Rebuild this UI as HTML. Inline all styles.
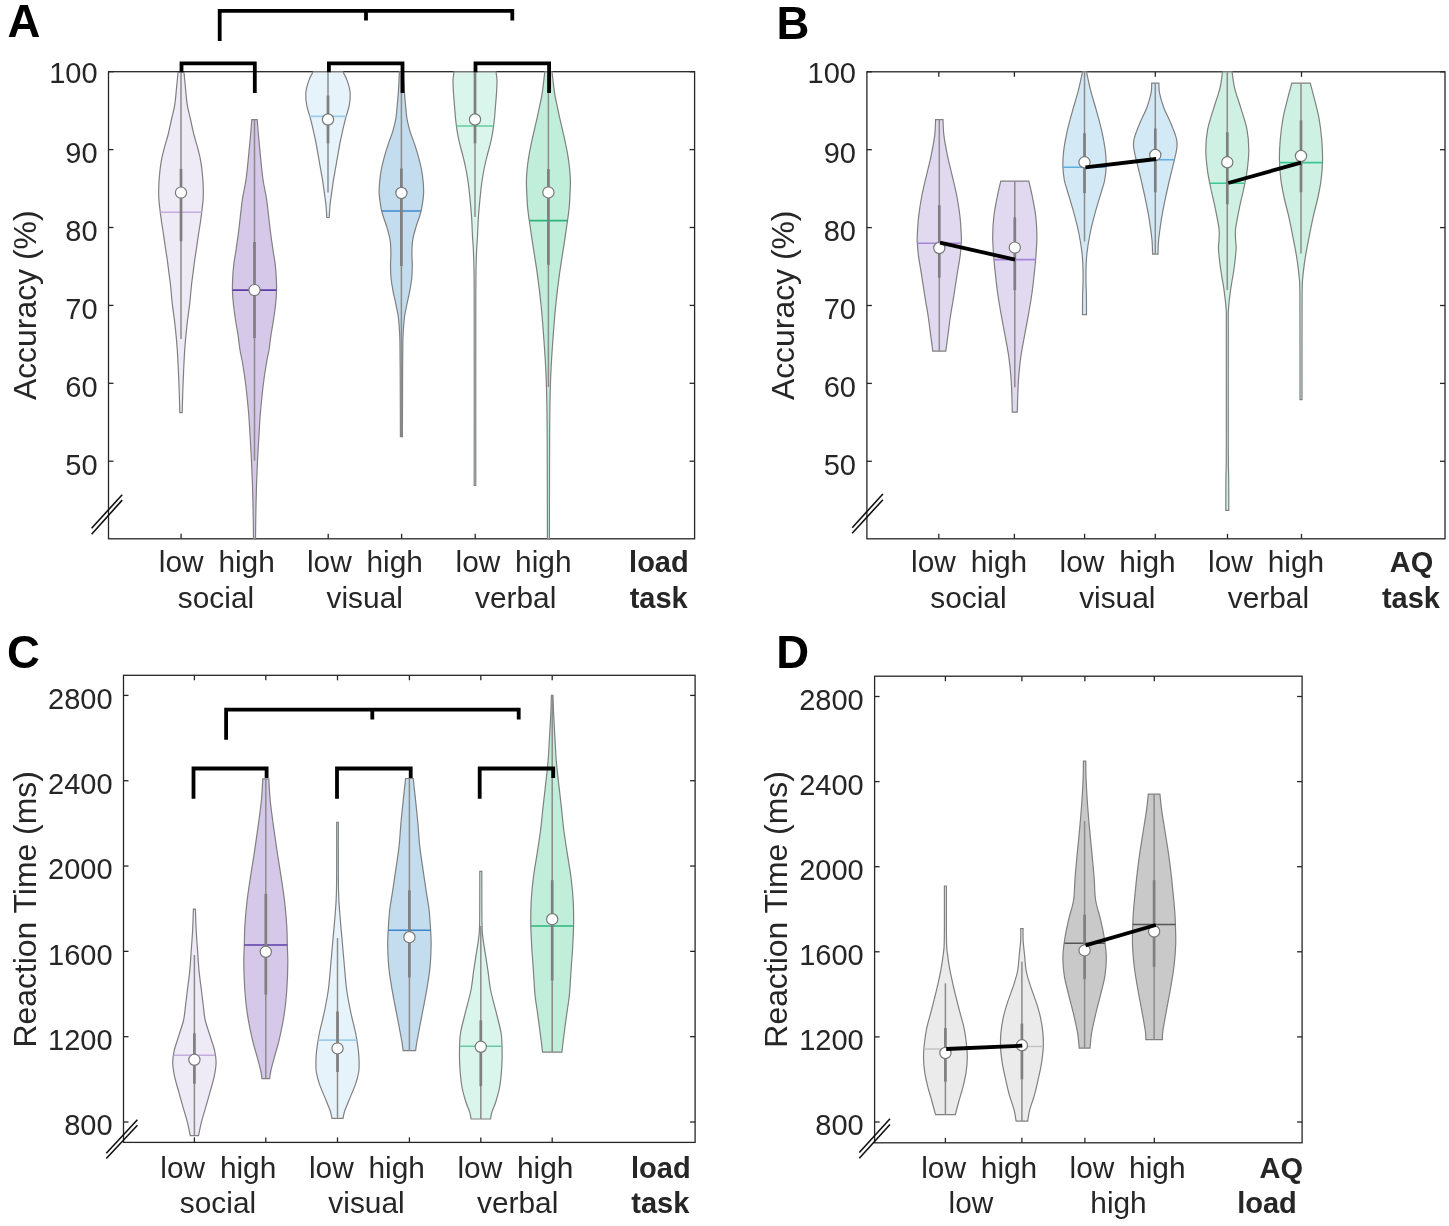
<!DOCTYPE html>
<html><head><meta charset="utf-8"><style>
html,body{margin:0;padding:0;background:#fff;overflow:hidden;}
svg{display:block;filter:blur(0.3px);}
text{font-family:"Liberation Sans", sans-serif;}
</style></head><body>
<svg width="1449" height="1226" viewBox="0 0 1449 1226" font-family='"Liberation Sans", sans-serif'>
<rect width="1449" height="1226" fill="#fff"/>
<rect x="108.50" y="71.70" width="586.10" height="467.10" fill="none" stroke="#262626" stroke-width="1.3"/>
<line x1="108.50" y1="71.70" x2="113.50" y2="71.70" stroke="#262626" stroke-width="1.3"/>
<line x1="694.60" y1="71.70" x2="689.60" y2="71.70" stroke="#262626" stroke-width="1.3"/>
<line x1="108.50" y1="149.60" x2="113.50" y2="149.60" stroke="#262626" stroke-width="1.3"/>
<line x1="694.60" y1="149.60" x2="689.60" y2="149.60" stroke="#262626" stroke-width="1.3"/>
<line x1="108.50" y1="227.50" x2="113.50" y2="227.50" stroke="#262626" stroke-width="1.3"/>
<line x1="694.60" y1="227.50" x2="689.60" y2="227.50" stroke="#262626" stroke-width="1.3"/>
<line x1="108.50" y1="305.40" x2="113.50" y2="305.40" stroke="#262626" stroke-width="1.3"/>
<line x1="694.60" y1="305.40" x2="689.60" y2="305.40" stroke="#262626" stroke-width="1.3"/>
<line x1="108.50" y1="383.30" x2="113.50" y2="383.30" stroke="#262626" stroke-width="1.3"/>
<line x1="694.60" y1="383.30" x2="689.60" y2="383.30" stroke="#262626" stroke-width="1.3"/>
<line x1="108.50" y1="461.20" x2="113.50" y2="461.20" stroke="#262626" stroke-width="1.3"/>
<line x1="694.60" y1="461.20" x2="689.60" y2="461.20" stroke="#262626" stroke-width="1.3"/>
<line x1="181.10" y1="538.80" x2="181.10" y2="533.80" stroke="#262626" stroke-width="1.3"/>
<line x1="181.10" y1="71.70" x2="181.10" y2="76.70" stroke="#262626" stroke-width="1.3"/>
<line x1="254.50" y1="538.80" x2="254.50" y2="533.80" stroke="#262626" stroke-width="1.3"/>
<line x1="254.50" y1="71.70" x2="254.50" y2="76.70" stroke="#262626" stroke-width="1.3"/>
<line x1="328.20" y1="538.80" x2="328.20" y2="533.80" stroke="#262626" stroke-width="1.3"/>
<line x1="328.20" y1="71.70" x2="328.20" y2="76.70" stroke="#262626" stroke-width="1.3"/>
<line x1="401.60" y1="538.80" x2="401.60" y2="533.80" stroke="#262626" stroke-width="1.3"/>
<line x1="401.60" y1="71.70" x2="401.60" y2="76.70" stroke="#262626" stroke-width="1.3"/>
<line x1="475.20" y1="538.80" x2="475.20" y2="533.80" stroke="#262626" stroke-width="1.3"/>
<line x1="475.20" y1="71.70" x2="475.20" y2="76.70" stroke="#262626" stroke-width="1.3"/>
<line x1="548.30" y1="538.80" x2="548.30" y2="533.80" stroke="#262626" stroke-width="1.3"/>
<line x1="548.30" y1="71.70" x2="548.30" y2="76.70" stroke="#262626" stroke-width="1.3"/>
<text x="97.60" y="82.70" font-size="29" text-anchor="end" font-weight="normal" fill="#262626" >100</text>
<text x="97.60" y="162.90" font-size="29" text-anchor="end" font-weight="normal" fill="#262626" >90</text>
<text x="97.60" y="240.80" font-size="29" text-anchor="end" font-weight="normal" fill="#262626" >80</text>
<text x="97.60" y="318.70" font-size="29" text-anchor="end" font-weight="normal" fill="#262626" >70</text>
<text x="97.60" y="396.60" font-size="29" text-anchor="end" font-weight="normal" fill="#262626" >60</text>
<text x="97.60" y="474.50" font-size="29" text-anchor="end" font-weight="normal" fill="#262626" >50</text>
<line x1="91.60" y1="528.30" x2="122.20" y2="494.70" stroke="#111" stroke-width="1.6"/>
<line x1="91.60" y1="534.20" x2="122.20" y2="500.10" stroke="#111" stroke-width="1.6"/>
<path d="M178.00 72.50 C177.80 74.58 177.33 79.70 176.80 85.00 C176.27 90.30 175.63 98.80 174.80 104.30 C173.97 109.80 172.67 114.05 171.80 118.00 C170.93 121.95 170.23 125.17 169.60 128.00 C168.97 130.83 168.87 131.72 168.00 135.00 C167.13 138.28 165.50 143.48 164.40 147.70 C163.30 151.92 162.18 156.08 161.40 160.30 C160.62 164.52 160.13 168.78 159.70 173.00 C159.27 177.22 158.95 181.38 158.80 185.60 C158.65 189.82 158.58 194.08 158.80 198.30 C159.02 202.52 159.60 206.68 160.10 210.90 C160.60 215.12 161.18 219.37 161.80 223.60 C162.42 227.83 163.17 232.08 163.80 236.30 C164.43 240.52 164.98 244.68 165.60 248.90 C166.22 253.12 166.92 257.38 167.50 261.60 C168.08 265.82 168.60 270.30 169.10 274.20 C169.60 278.10 169.98 280.22 170.50 285.00 C171.02 289.78 171.43 296.12 172.20 302.90 C172.97 309.68 174.27 318.08 175.10 325.70 C175.93 333.32 176.65 340.98 177.20 348.60 C177.75 356.22 178.05 363.78 178.40 371.40 C178.75 379.02 179.07 387.43 179.30 394.30 C179.53 401.17 179.72 409.55 179.80 412.60 L182.20 412.60 C182.28 409.55 182.47 401.17 182.70 394.30 C182.93 387.43 183.25 379.02 183.60 371.40 C183.95 363.78 184.25 356.22 184.80 348.60 C185.35 340.98 186.07 333.32 186.90 325.70 C187.73 318.08 189.03 309.68 189.80 302.90 C190.57 296.12 190.98 289.78 191.50 285.00 C192.02 280.22 192.40 278.10 192.90 274.20 C193.40 270.30 193.92 265.82 194.50 261.60 C195.08 257.38 195.78 253.12 196.40 248.90 C197.02 244.68 197.57 240.52 198.20 236.30 C198.83 232.08 199.58 227.83 200.20 223.60 C200.82 219.37 201.40 215.12 201.90 210.90 C202.40 206.68 202.98 202.52 203.20 198.30 C203.42 194.08 203.35 189.82 203.20 185.60 C203.05 181.38 202.73 177.22 202.30 173.00 C201.87 168.78 201.38 164.52 200.60 160.30 C199.82 156.08 198.70 151.92 197.60 147.70 C196.50 143.48 194.87 138.28 194.00 135.00 C193.13 131.72 193.03 130.83 192.40 128.00 C191.77 125.17 191.07 121.95 190.20 118.00 C189.33 114.05 188.03 109.80 187.20 104.30 C186.37 98.80 185.73 90.30 185.20 85.00 C184.67 79.70 184.20 74.58 184.00 72.50 Z" fill="#eeeaf6" stroke="#808080" stroke-width="1.2"/>
<line x1="181.00" y1="72.50" x2="181.00" y2="338.90" stroke="#8c8c8c" stroke-width="1.5"/>
<line x1="160.27" y1="212.20" x2="201.73" y2="212.20" stroke="#c2aede" stroke-width="1.6"/>
<line x1="181.00" y1="168.90" x2="181.00" y2="241.30" stroke="#7f7f7f" stroke-width="2.7"/>
<circle cx="181.00" cy="192.60" r="5.6" fill="#fff" stroke="#787878" stroke-width="1.2"/>
<path d="M251.80 119.70 C251.52 123.08 251.02 130.37 250.10 140.00 C249.18 149.63 247.60 167.50 246.30 177.50 C245.00 187.50 243.55 191.25 242.30 200.00 C241.05 208.75 239.85 221.67 238.80 230.00 C237.75 238.33 236.85 244.17 236.00 250.00 C235.15 255.83 234.27 260.00 233.70 265.00 C233.13 270.00 232.80 275.50 232.60 280.00 C232.40 284.50 232.35 287.83 232.50 292.00 C232.65 296.17 233.00 300.33 233.50 305.00 C234.00 309.67 234.75 315.00 235.50 320.00 C236.25 325.00 237.25 330.00 238.00 335.00 C238.75 340.00 239.33 345.83 240.00 350.00 C240.67 354.17 241.17 355.17 242.00 360.00 C242.83 364.83 244.12 372.50 245.00 379.00 C245.88 385.50 246.63 392.50 247.30 399.00 C247.97 405.50 248.52 411.50 249.00 418.00 C249.48 424.50 249.82 431.50 250.20 438.00 C250.58 444.50 250.95 450.00 251.30 457.00 C251.65 464.00 252.02 472.00 252.30 480.00 C252.58 488.00 252.80 495.20 253.00 505.00 C253.20 514.80 253.42 533.17 253.50 538.80 L255.50 538.80 C255.58 533.17 255.80 514.80 256.00 505.00 C256.20 495.20 256.42 488.00 256.70 480.00 C256.98 472.00 257.35 464.00 257.70 457.00 C258.05 450.00 258.42 444.50 258.80 438.00 C259.18 431.50 259.52 424.50 260.00 418.00 C260.48 411.50 261.03 405.50 261.70 399.00 C262.37 392.50 263.12 385.50 264.00 379.00 C264.88 372.50 266.17 364.83 267.00 360.00 C267.83 355.17 268.33 354.17 269.00 350.00 C269.67 345.83 270.25 340.00 271.00 335.00 C271.75 330.00 272.75 325.00 273.50 320.00 C274.25 315.00 275.00 309.67 275.50 305.00 C276.00 300.33 276.35 296.17 276.50 292.00 C276.65 287.83 276.60 284.50 276.40 280.00 C276.20 275.50 275.87 270.00 275.30 265.00 C274.73 260.00 273.85 255.83 273.00 250.00 C272.15 244.17 271.25 238.33 270.20 230.00 C269.15 221.67 267.95 208.75 266.70 200.00 C265.45 191.25 264.00 187.50 262.70 177.50 C261.40 167.50 259.82 149.63 258.90 140.00 C257.98 130.37 257.48 123.08 257.20 119.70 Z" fill="#d5c8e8" stroke="#808080" stroke-width="1.2"/>
<line x1="254.50" y1="119.70" x2="254.50" y2="460.60" stroke="#8c8c8c" stroke-width="1.5"/>
<line x1="232.52" y1="290.10" x2="276.48" y2="290.10" stroke="#5b3ea6" stroke-width="1.6"/>
<line x1="254.50" y1="242.00" x2="254.50" y2="338.00" stroke="#7f7f7f" stroke-width="2.7"/>
<circle cx="254.50" cy="290.10" r="5.6" fill="#fff" stroke="#787878" stroke-width="1.2"/>
<path d="M313.10 71.80 C312.38 73.27 310.02 77.05 308.80 80.60 C307.58 84.15 306.13 88.92 305.80 93.10 C305.47 97.28 306.03 101.50 306.80 105.70 C307.57 109.90 309.30 114.12 310.40 118.30 C311.50 122.48 312.45 126.62 313.40 130.80 C314.35 134.98 315.28 139.22 316.10 143.40 C316.92 147.58 317.57 151.72 318.30 155.90 C319.03 160.08 319.77 164.30 320.50 168.50 C321.23 172.70 322.03 176.92 322.70 181.10 C323.37 185.28 323.93 189.42 324.50 193.60 C325.07 197.78 325.72 202.22 326.10 206.20 C326.48 210.18 326.68 215.62 326.80 217.50 L329.20 217.50 C329.32 215.62 329.52 210.18 329.90 206.20 C330.28 202.22 330.93 197.78 331.50 193.60 C332.07 189.42 332.63 185.28 333.30 181.10 C333.97 176.92 334.77 172.70 335.50 168.50 C336.23 164.30 336.97 160.08 337.70 155.90 C338.43 151.72 339.08 147.58 339.90 143.40 C340.72 139.22 341.65 134.98 342.60 130.80 C343.55 126.62 344.50 122.48 345.60 118.30 C346.70 114.12 348.43 109.90 349.20 105.70 C349.97 101.50 350.53 97.28 350.20 93.10 C349.87 88.92 348.42 84.15 347.20 80.60 C345.98 77.05 343.62 73.27 342.90 71.80 Z" fill="#e6f3fa" stroke="#808080" stroke-width="1.2"/>
<line x1="328.00" y1="71.80" x2="328.00" y2="192.40" stroke="#8c8c8c" stroke-width="1.5"/>
<line x1="309.86" y1="116.40" x2="346.14" y2="116.40" stroke="#9dcdea" stroke-width="1.6"/>
<line x1="328.00" y1="95.60" x2="328.00" y2="143.40" stroke="#7f7f7f" stroke-width="2.7"/>
<circle cx="328.00" cy="119.50" r="5.6" fill="#fff" stroke="#787878" stroke-width="1.2"/>
<path d="M399.40 71.80 C399.22 75.35 398.67 87.45 398.30 93.10 C397.93 98.75 397.60 101.50 397.20 105.70 C396.80 109.90 396.62 114.12 395.90 118.30 C395.18 122.48 394.13 126.62 392.90 130.80 C391.67 134.98 389.88 139.22 388.50 143.40 C387.12 147.58 385.77 151.72 384.60 155.90 C383.43 160.08 382.32 164.30 381.50 168.50 C380.68 172.70 380.08 176.92 379.70 181.10 C379.32 185.28 379.03 189.42 379.20 193.60 C379.37 197.78 380.10 202.63 380.70 206.20 C381.30 209.77 381.75 211.43 382.80 215.00 C383.85 218.57 385.78 223.42 387.00 227.60 C388.22 231.78 389.45 235.92 390.10 240.10 C390.75 244.28 390.83 248.50 390.90 252.70 C390.97 256.90 390.48 261.12 390.50 265.30 C390.52 269.48 390.60 273.62 391.00 277.80 C391.40 281.98 392.13 286.22 392.90 290.40 C393.67 294.58 394.73 298.72 395.60 302.90 C396.47 307.08 397.48 311.30 398.10 315.50 C398.72 319.70 399.00 323.92 399.30 328.10 C399.60 332.28 399.75 333.62 399.90 340.60 C400.05 347.58 400.12 354.00 400.20 370.00 C400.28 386.00 400.37 425.50 400.40 436.60 L402.40 436.60 C402.43 425.50 402.52 386.00 402.60 370.00 C402.68 354.00 402.75 347.58 402.90 340.60 C403.05 333.62 403.20 332.28 403.50 328.10 C403.80 323.92 404.08 319.70 404.70 315.50 C405.32 311.30 406.33 307.08 407.20 302.90 C408.07 298.72 409.13 294.58 409.90 290.40 C410.67 286.22 411.40 281.98 411.80 277.80 C412.20 273.62 412.28 269.48 412.30 265.30 C412.32 261.12 411.83 256.90 411.90 252.70 C411.97 248.50 412.05 244.28 412.70 240.10 C413.35 235.92 414.58 231.78 415.80 227.60 C417.02 223.42 418.95 218.57 420.00 215.00 C421.05 211.43 421.50 209.77 422.10 206.20 C422.70 202.63 423.43 197.78 423.60 193.60 C423.77 189.42 423.48 185.28 423.10 181.10 C422.72 176.92 422.12 172.70 421.30 168.50 C420.48 164.30 419.37 160.08 418.20 155.90 C417.03 151.72 415.68 147.58 414.30 143.40 C412.92 139.22 411.13 134.98 409.90 130.80 C408.67 126.62 407.62 122.48 406.90 118.30 C406.18 114.12 406.00 109.90 405.60 105.70 C405.20 101.50 404.87 98.75 404.50 93.10 C404.13 87.45 403.58 75.35 403.40 71.80 Z" fill="#c3ddef" stroke="#808080" stroke-width="1.2"/>
<line x1="401.40" y1="71.80" x2="401.40" y2="436.00" stroke="#8c8c8c" stroke-width="1.5"/>
<line x1="381.85" y1="211.00" x2="420.95" y2="211.00" stroke="#3a88cc" stroke-width="1.6"/>
<line x1="401.40" y1="168.50" x2="401.40" y2="265.90" stroke="#7f7f7f" stroke-width="2.7"/>
<circle cx="401.40" cy="193.00" r="5.6" fill="#fff" stroke="#787878" stroke-width="1.2"/>
<path d="M454.00 71.80 C453.83 73.27 453.08 77.05 453.00 80.60 C452.92 84.15 453.25 88.92 453.50 93.10 C453.75 97.28 454.17 101.50 454.50 105.70 C454.83 109.90 455.07 114.12 455.50 118.30 C455.93 122.48 456.42 126.62 457.10 130.80 C457.78 134.98 458.63 139.22 459.60 143.40 C460.57 147.58 461.87 151.72 462.90 155.90 C463.93 160.08 464.95 164.30 465.80 168.50 C466.65 172.70 467.38 176.92 468.00 181.10 C468.62 185.28 469.05 189.42 469.50 193.60 C469.95 197.78 470.33 202.00 470.70 206.20 C471.07 210.40 471.40 213.78 471.70 218.80 C472.00 223.82 472.18 230.13 472.50 236.30 C472.82 242.47 473.32 245.18 473.60 255.80 C473.88 266.42 474.10 261.72 474.20 300.00 C474.30 338.28 474.20 454.58 474.20 485.50 L475.80 485.50 C475.80 454.58 475.70 338.28 475.80 300.00 C475.90 261.72 476.12 266.42 476.40 255.80 C476.68 245.18 477.18 242.47 477.50 236.30 C477.82 230.13 478.00 223.82 478.30 218.80 C478.60 213.78 478.93 210.40 479.30 206.20 C479.67 202.00 480.05 197.78 480.50 193.60 C480.95 189.42 481.38 185.28 482.00 181.10 C482.62 176.92 483.35 172.70 484.20 168.50 C485.05 164.30 486.07 160.08 487.10 155.90 C488.13 151.72 489.43 147.58 490.40 143.40 C491.37 139.22 492.22 134.98 492.90 130.80 C493.58 126.62 494.07 122.48 494.50 118.30 C494.93 114.12 495.17 109.90 495.50 105.70 C495.83 101.50 496.25 97.28 496.50 93.10 C496.75 88.92 497.08 84.15 497.00 80.60 C496.92 77.05 496.17 73.27 496.00 71.80 Z" fill="#daf5eb" stroke="#808080" stroke-width="1.2"/>
<line x1="475.00" y1="71.80" x2="475.00" y2="216.90" stroke="#8c8c8c" stroke-width="1.5"/>
<line x1="456.49" y1="126.00" x2="493.51" y2="126.00" stroke="#64cc9e" stroke-width="1.6"/>
<line x1="475.00" y1="71.80" x2="475.00" y2="143.40" stroke="#7f7f7f" stroke-width="2.7"/>
<circle cx="475.00" cy="119.50" r="5.6" fill="#fff" stroke="#787878" stroke-width="1.2"/>
<path d="M544.80 71.80 C544.37 75.35 543.05 87.45 542.20 93.10 C541.35 98.75 540.57 101.50 539.70 105.70 C538.83 109.90 537.93 114.12 537.00 118.30 C536.07 122.48 535.05 126.62 534.10 130.80 C533.15 134.98 532.17 139.22 531.30 143.40 C530.43 147.58 529.58 151.72 528.90 155.90 C528.22 160.08 527.62 164.30 527.20 168.50 C526.78 172.70 526.47 176.92 526.40 181.10 C526.33 185.28 526.62 189.42 526.80 193.60 C526.98 197.78 527.15 202.13 527.50 206.20 C527.85 210.27 528.00 211.50 528.90 218.00 C529.80 224.50 531.47 235.65 532.90 245.20 C534.33 254.75 536.13 265.25 537.50 275.30 C538.87 285.35 540.08 295.43 541.10 305.50 C542.12 315.57 542.85 325.65 543.60 335.70 C544.35 345.75 545.08 355.75 545.60 365.80 C546.12 375.85 546.43 383.63 546.70 396.00 C546.97 408.37 547.08 416.20 547.20 440.00 C547.32 463.80 547.37 522.33 547.40 538.80 L549.40 538.80 C549.43 522.33 549.48 463.80 549.60 440.00 C549.72 416.20 549.83 408.37 550.10 396.00 C550.37 383.63 550.68 375.85 551.20 365.80 C551.72 355.75 552.45 345.75 553.20 335.70 C553.95 325.65 554.68 315.57 555.70 305.50 C556.72 295.43 557.93 285.35 559.30 275.30 C560.67 265.25 562.47 254.75 563.90 245.20 C565.33 235.65 567.00 224.50 567.90 218.00 C568.80 211.50 568.95 210.27 569.30 206.20 C569.65 202.13 569.82 197.78 570.00 193.60 C570.18 189.42 570.47 185.28 570.40 181.10 C570.33 176.92 570.02 172.70 569.60 168.50 C569.18 164.30 568.58 160.08 567.90 155.90 C567.22 151.72 566.37 147.58 565.50 143.40 C564.63 139.22 563.65 134.98 562.70 130.80 C561.75 126.62 560.73 122.48 559.80 118.30 C558.87 114.12 557.97 109.90 557.10 105.70 C556.23 101.50 555.45 98.75 554.60 93.10 C553.75 87.45 552.43 75.35 552.00 71.80 Z" fill="#c1eddb" stroke="#808080" stroke-width="1.2"/>
<line x1="548.40" y1="71.80" x2="548.40" y2="387.00" stroke="#8c8c8c" stroke-width="1.5"/>
<line x1="529.28" y1="220.60" x2="567.52" y2="220.60" stroke="#2db47a" stroke-width="1.6"/>
<line x1="548.40" y1="169.10" x2="548.40" y2="264.80" stroke="#7f7f7f" stroke-width="2.7"/>
<circle cx="548.40" cy="192.40" r="5.6" fill="#fff" stroke="#787878" stroke-width="1.2"/>
<rect x="866.90" y="71.80" width="578.10" height="467.00" fill="none" stroke="#262626" stroke-width="1.3"/>
<line x1="866.90" y1="71.80" x2="871.90" y2="71.80" stroke="#262626" stroke-width="1.3"/>
<line x1="1445.00" y1="71.80" x2="1440.00" y2="71.80" stroke="#262626" stroke-width="1.3"/>
<line x1="866.90" y1="149.70" x2="871.90" y2="149.70" stroke="#262626" stroke-width="1.3"/>
<line x1="1445.00" y1="149.70" x2="1440.00" y2="149.70" stroke="#262626" stroke-width="1.3"/>
<line x1="866.90" y1="227.60" x2="871.90" y2="227.60" stroke="#262626" stroke-width="1.3"/>
<line x1="1445.00" y1="227.60" x2="1440.00" y2="227.60" stroke="#262626" stroke-width="1.3"/>
<line x1="866.90" y1="305.50" x2="871.90" y2="305.50" stroke="#262626" stroke-width="1.3"/>
<line x1="1445.00" y1="305.50" x2="1440.00" y2="305.50" stroke="#262626" stroke-width="1.3"/>
<line x1="866.90" y1="383.40" x2="871.90" y2="383.40" stroke="#262626" stroke-width="1.3"/>
<line x1="1445.00" y1="383.40" x2="1440.00" y2="383.40" stroke="#262626" stroke-width="1.3"/>
<line x1="866.90" y1="461.30" x2="871.90" y2="461.30" stroke="#262626" stroke-width="1.3"/>
<line x1="1445.00" y1="461.30" x2="1440.00" y2="461.30" stroke="#262626" stroke-width="1.3"/>
<line x1="938.80" y1="538.80" x2="938.80" y2="533.80" stroke="#262626" stroke-width="1.3"/>
<line x1="938.80" y1="71.80" x2="938.80" y2="76.80" stroke="#262626" stroke-width="1.3"/>
<line x1="1014.40" y1="538.80" x2="1014.40" y2="533.80" stroke="#262626" stroke-width="1.3"/>
<line x1="1014.40" y1="71.80" x2="1014.40" y2="76.80" stroke="#262626" stroke-width="1.3"/>
<line x1="1084.60" y1="538.80" x2="1084.60" y2="533.80" stroke="#262626" stroke-width="1.3"/>
<line x1="1084.60" y1="71.80" x2="1084.60" y2="76.80" stroke="#262626" stroke-width="1.3"/>
<line x1="1155.30" y1="538.80" x2="1155.30" y2="533.80" stroke="#262626" stroke-width="1.3"/>
<line x1="1155.30" y1="71.80" x2="1155.30" y2="76.80" stroke="#262626" stroke-width="1.3"/>
<line x1="1227.50" y1="538.80" x2="1227.50" y2="533.80" stroke="#262626" stroke-width="1.3"/>
<line x1="1227.50" y1="71.80" x2="1227.50" y2="76.80" stroke="#262626" stroke-width="1.3"/>
<line x1="1301.50" y1="538.80" x2="1301.50" y2="533.80" stroke="#262626" stroke-width="1.3"/>
<line x1="1301.50" y1="71.80" x2="1301.50" y2="76.80" stroke="#262626" stroke-width="1.3"/>
<text x="856.00" y="82.80" font-size="29" text-anchor="end" font-weight="normal" fill="#262626" >100</text>
<text x="856.00" y="163.00" font-size="29" text-anchor="end" font-weight="normal" fill="#262626" >90</text>
<text x="856.00" y="240.90" font-size="29" text-anchor="end" font-weight="normal" fill="#262626" >80</text>
<text x="856.00" y="318.80" font-size="29" text-anchor="end" font-weight="normal" fill="#262626" >70</text>
<text x="856.00" y="396.70" font-size="29" text-anchor="end" font-weight="normal" fill="#262626" >60</text>
<text x="856.00" y="474.60" font-size="29" text-anchor="end" font-weight="normal" fill="#262626" >50</text>
<line x1="852.20" y1="527.70" x2="882.90" y2="494.00" stroke="#111" stroke-width="1.6"/>
<line x1="852.20" y1="533.30" x2="882.90" y2="499.70" stroke="#111" stroke-width="1.6"/>
<path d="M935.60 119.60 C935.45 122.23 935.45 129.37 934.70 135.40 C933.95 141.43 932.50 149.00 931.10 155.80 C929.70 162.60 927.87 169.42 926.30 176.20 C924.73 182.98 922.98 189.72 921.70 196.50 C920.42 203.28 919.35 210.10 918.60 216.90 C917.85 223.70 917.40 232.92 917.20 237.30 C917.00 241.68 917.20 240.18 917.40 243.20 C917.60 246.22 917.68 249.97 918.40 255.40 C919.12 260.83 920.63 269.00 921.70 275.80 C922.77 282.60 923.72 289.42 924.80 296.20 C925.88 302.98 927.18 309.72 928.20 316.50 C929.22 323.28 930.13 331.12 930.90 336.90 C931.67 342.68 932.48 348.82 932.80 351.20 L945.80 351.20 C946.12 348.82 946.93 342.68 947.70 336.90 C948.47 331.12 949.38 323.28 950.40 316.50 C951.42 309.72 952.72 302.98 953.80 296.20 C954.88 289.42 955.83 282.60 956.90 275.80 C957.97 269.00 959.48 260.83 960.20 255.40 C960.92 249.97 961.00 246.22 961.20 243.20 C961.40 240.18 961.60 241.68 961.40 237.30 C961.20 232.92 960.75 223.70 960.00 216.90 C959.25 210.10 958.18 203.28 956.90 196.50 C955.62 189.72 953.87 182.98 952.30 176.20 C950.73 169.42 948.90 162.60 947.50 155.80 C946.10 149.00 944.65 141.43 943.90 135.40 C943.15 129.37 943.15 122.23 943.00 119.60 Z" fill="#e1d9ef" stroke="#808080" stroke-width="1.2"/>
<line x1="939.30" y1="119.60" x2="939.30" y2="351.20" stroke="#8c8c8c" stroke-width="1.5"/>
<line x1="917.40" y1="243.20" x2="961.20" y2="243.20" stroke="#a784d8" stroke-width="1.6"/>
<line x1="939.30" y1="205.20" x2="939.30" y2="277.80" stroke="#7f7f7f" stroke-width="2.7"/>
<circle cx="939.30" cy="248.00" r="5.6" fill="#fff" stroke="#787878" stroke-width="1.2"/>
<path d="M1000.80 181.10 C1000.25 183.48 998.65 189.62 997.50 195.40 C996.35 201.18 994.70 209.00 993.90 215.80 C993.10 222.60 992.73 229.42 992.70 236.20 C992.67 242.98 993.20 249.72 993.70 256.50 C994.20 263.28 995.00 270.48 995.70 276.90 C996.40 283.32 996.97 288.58 997.90 295.00 C998.83 301.42 1000.10 308.60 1001.30 315.40 C1002.50 322.20 1003.87 329.00 1005.10 335.80 C1006.33 342.60 1007.73 349.40 1008.70 356.20 C1009.67 363.00 1010.37 369.82 1010.90 376.60 C1011.43 383.38 1011.67 390.97 1011.90 396.90 C1012.13 402.83 1012.23 409.65 1012.30 412.20 L1017.30 412.20 C1017.37 409.65 1017.47 402.83 1017.70 396.90 C1017.93 390.97 1018.17 383.38 1018.70 376.60 C1019.23 369.82 1019.93 363.00 1020.90 356.20 C1021.87 349.40 1023.27 342.60 1024.50 335.80 C1025.73 329.00 1027.10 322.20 1028.30 315.40 C1029.50 308.60 1030.77 301.42 1031.70 295.00 C1032.63 288.58 1033.20 283.32 1033.90 276.90 C1034.60 270.48 1035.40 263.28 1035.90 256.50 C1036.40 249.72 1036.93 242.98 1036.90 236.20 C1036.87 229.42 1036.50 222.60 1035.70 215.80 C1034.90 209.00 1033.25 201.18 1032.10 195.40 C1030.95 189.62 1029.35 183.48 1028.80 181.10 Z" fill="#e1d9ef" stroke="#808080" stroke-width="1.2"/>
<line x1="1014.80" y1="181.10" x2="1014.80" y2="387.30" stroke="#8c8c8c" stroke-width="1.5"/>
<line x1="994.00" y1="259.60" x2="1035.60" y2="259.60" stroke="#a784d8" stroke-width="1.6"/>
<line x1="1014.80" y1="217.30" x2="1014.80" y2="290.20" stroke="#7f7f7f" stroke-width="2.7"/>
<circle cx="1014.80" cy="247.60" r="5.6" fill="#fff" stroke="#787878" stroke-width="1.2"/>
<path d="M1082.50 71.80 C1081.82 74.90 1080.07 83.90 1078.40 90.40 C1076.73 96.90 1074.37 104.00 1072.50 110.80 C1070.63 117.60 1068.68 124.42 1067.20 131.20 C1065.72 137.98 1064.32 145.57 1063.60 151.50 C1062.88 157.43 1062.78 162.05 1062.90 166.80 C1063.02 171.55 1063.60 176.13 1064.30 180.00 C1065.00 183.87 1065.58 184.80 1067.10 190.00 C1068.62 195.20 1071.47 204.12 1073.40 211.20 C1075.33 218.28 1077.25 225.42 1078.70 232.50 C1080.15 239.58 1081.37 246.63 1082.10 253.70 C1082.83 260.77 1083.02 267.82 1083.10 274.90 C1083.18 281.98 1082.70 289.57 1082.60 296.20 C1082.50 302.83 1082.52 311.62 1082.50 314.70 L1086.50 314.70 C1086.48 311.62 1086.50 302.83 1086.40 296.20 C1086.30 289.57 1085.82 281.98 1085.90 274.90 C1085.98 267.82 1086.17 260.77 1086.90 253.70 C1087.63 246.63 1088.85 239.58 1090.30 232.50 C1091.75 225.42 1093.67 218.28 1095.60 211.20 C1097.53 204.12 1100.38 195.20 1101.90 190.00 C1103.42 184.80 1104.00 183.87 1104.70 180.00 C1105.40 176.13 1105.98 171.55 1106.10 166.80 C1106.22 162.05 1106.12 157.43 1105.40 151.50 C1104.68 145.57 1103.28 137.98 1101.80 131.20 C1100.32 124.42 1098.37 117.60 1096.50 110.80 C1094.63 104.00 1092.27 96.90 1090.60 90.40 C1088.93 83.90 1087.18 74.90 1086.50 71.80 Z" fill="#d3e9f5" stroke="#808080" stroke-width="1.2"/>
<line x1="1084.50" y1="71.80" x2="1084.50" y2="241.50" stroke="#8c8c8c" stroke-width="1.5"/>
<line x1="1062.95" y1="167.30" x2="1106.05" y2="167.30" stroke="#5aaee0" stroke-width="1.6"/>
<line x1="1084.50" y1="133.20" x2="1084.50" y2="193.10" stroke="#7f7f7f" stroke-width="2.7"/>
<circle cx="1084.50" cy="162.30" r="5.6" fill="#fff" stroke="#787878" stroke-width="1.2"/>
<path d="M1151.70 83.20 C1151.60 84.82 1151.92 88.82 1151.10 92.90 C1150.28 96.98 1148.63 102.75 1146.80 107.70 C1144.97 112.65 1142.15 117.65 1140.10 122.60 C1138.05 127.55 1135.60 133.68 1134.50 137.40 C1133.40 141.12 1133.50 142.42 1133.50 144.90 C1133.50 147.38 1133.75 148.58 1134.50 152.30 C1135.25 156.02 1136.82 162.25 1138.00 167.20 C1139.18 172.15 1140.45 177.05 1141.60 182.00 C1142.75 186.95 1143.85 191.95 1144.90 196.90 C1145.95 201.85 1147.00 206.75 1147.90 211.70 C1148.80 216.65 1149.60 221.65 1150.30 226.60 C1151.00 231.55 1151.72 236.82 1152.10 241.40 C1152.48 245.98 1152.52 251.98 1152.60 254.10 L1158.00 254.10 C1158.08 251.98 1158.12 245.98 1158.50 241.40 C1158.88 236.82 1159.60 231.55 1160.30 226.60 C1161.00 221.65 1161.80 216.65 1162.70 211.70 C1163.60 206.75 1164.65 201.85 1165.70 196.90 C1166.75 191.95 1167.85 186.95 1169.00 182.00 C1170.15 177.05 1171.42 172.15 1172.60 167.20 C1173.78 162.25 1175.35 156.02 1176.10 152.30 C1176.85 148.58 1177.10 147.38 1177.10 144.90 C1177.10 142.42 1177.20 141.12 1176.10 137.40 C1175.00 133.68 1172.55 127.55 1170.50 122.60 C1168.45 117.65 1165.63 112.65 1163.80 107.70 C1161.97 102.75 1160.32 96.98 1159.50 92.90 C1158.68 88.82 1159.00 84.82 1158.90 83.20 Z" fill="#d3e9f5" stroke="#808080" stroke-width="1.2"/>
<line x1="1155.30" y1="83.20" x2="1155.30" y2="254.10" stroke="#8c8c8c" stroke-width="1.5"/>
<line x1="1136.24" y1="159.70" x2="1174.36" y2="159.70" stroke="#5aaee0" stroke-width="1.6"/>
<line x1="1155.30" y1="128.50" x2="1155.30" y2="192.40" stroke="#7f7f7f" stroke-width="2.7"/>
<circle cx="1155.30" cy="155.00" r="5.6" fill="#fff" stroke="#787878" stroke-width="1.2"/>
<path d="M1222.50 71.80 C1222.07 74.57 1221.40 82.23 1219.90 88.40 C1218.40 94.57 1215.53 102.00 1213.50 108.80 C1211.47 115.60 1208.98 122.42 1207.70 129.20 C1206.42 135.98 1205.85 142.72 1205.80 149.50 C1205.75 156.28 1206.58 163.48 1207.40 169.90 C1208.22 176.32 1209.38 181.58 1210.70 188.00 C1212.02 194.42 1213.92 201.60 1215.30 208.40 C1216.68 215.20 1218.38 223.53 1219.00 228.80 C1219.62 234.07 1219.08 236.60 1219.00 240.00 C1218.92 243.40 1218.22 244.28 1218.50 249.20 C1218.78 254.12 1219.78 262.72 1220.70 269.50 C1221.62 276.28 1223.08 283.10 1224.00 289.90 C1224.92 296.70 1225.82 303.62 1226.20 310.30 C1226.58 316.98 1226.28 306.72 1226.30 330.00 C1226.32 353.28 1226.37 425.00 1226.30 450.00 C1226.23 475.00 1225.98 469.95 1225.90 480.00 C1225.82 490.05 1225.82 505.25 1225.80 510.30 L1228.80 510.30 C1228.78 505.25 1228.78 490.05 1228.70 480.00 C1228.62 469.95 1228.37 475.00 1228.30 450.00 C1228.23 425.00 1228.28 353.28 1228.30 330.00 C1228.32 306.72 1228.02 316.98 1228.40 310.30 C1228.78 303.62 1229.68 296.70 1230.60 289.90 C1231.52 283.10 1232.98 276.28 1233.90 269.50 C1234.82 262.72 1235.82 254.12 1236.10 249.20 C1236.38 244.28 1235.68 243.40 1235.60 240.00 C1235.52 236.60 1234.98 234.07 1235.60 228.80 C1236.22 223.53 1237.92 215.20 1239.30 208.40 C1240.68 201.60 1242.58 194.42 1243.90 188.00 C1245.22 181.58 1246.38 176.32 1247.20 169.90 C1248.02 163.48 1248.85 156.28 1248.80 149.50 C1248.75 142.72 1248.18 135.98 1246.90 129.20 C1245.62 122.42 1243.13 115.60 1241.10 108.80 C1239.07 102.00 1236.20 94.57 1234.70 88.40 C1233.20 82.23 1232.53 74.57 1232.10 71.80 Z" fill="#cef1e3" stroke="#808080" stroke-width="1.2"/>
<line x1="1227.30" y1="71.80" x2="1227.30" y2="290.00" stroke="#8c8c8c" stroke-width="1.5"/>
<line x1="1209.82" y1="183.20" x2="1244.78" y2="183.20" stroke="#3cc890" stroke-width="1.6"/>
<line x1="1227.30" y1="132.20" x2="1227.30" y2="204.30" stroke="#7f7f7f" stroke-width="2.7"/>
<circle cx="1227.30" cy="162.30" r="5.6" fill="#fff" stroke="#787878" stroke-width="1.2"/>
<path d="M1291.80 83.10 C1291.12 85.65 1289.18 92.45 1287.70 98.40 C1286.22 104.35 1284.13 112.00 1282.90 118.80 C1281.67 125.60 1280.88 132.42 1280.30 139.20 C1279.72 145.98 1279.30 152.72 1279.40 159.50 C1279.50 166.28 1280.10 173.48 1280.90 179.90 C1281.70 186.32 1282.93 192.08 1284.20 198.00 C1285.47 203.92 1287.08 209.10 1288.50 215.40 C1289.92 221.70 1291.37 229.00 1292.70 235.80 C1294.03 242.60 1295.43 249.42 1296.50 256.20 C1297.57 262.98 1298.53 269.72 1299.10 276.50 C1299.67 283.28 1299.75 276.37 1299.90 296.90 C1300.05 317.43 1299.98 382.57 1300.00 399.70 L1302.00 399.70 C1302.02 382.57 1301.95 317.43 1302.10 296.90 C1302.25 276.37 1302.33 283.28 1302.90 276.50 C1303.47 269.72 1304.43 262.98 1305.50 256.20 C1306.57 249.42 1307.97 242.60 1309.30 235.80 C1310.63 229.00 1312.08 221.70 1313.50 215.40 C1314.92 209.10 1316.53 203.92 1317.80 198.00 C1319.07 192.08 1320.30 186.32 1321.10 179.90 C1321.90 173.48 1322.50 166.28 1322.60 159.50 C1322.70 152.72 1322.28 145.98 1321.70 139.20 C1321.12 132.42 1320.33 125.60 1319.10 118.80 C1317.87 112.00 1315.78 104.35 1314.30 98.40 C1312.82 92.45 1310.88 85.65 1310.20 83.10 Z" fill="#cef1e3" stroke="#808080" stroke-width="1.2"/>
<line x1="1301.00" y1="83.10" x2="1301.00" y2="253.60" stroke="#8c8c8c" stroke-width="1.5"/>
<line x1="1279.63" y1="162.60" x2="1322.37" y2="162.60" stroke="#3cc890" stroke-width="1.6"/>
<line x1="1301.00" y1="120.30" x2="1301.00" y2="192.20" stroke="#7f7f7f" stroke-width="2.7"/>
<circle cx="1301.00" cy="156.00" r="5.6" fill="#fff" stroke="#787878" stroke-width="1.2"/>
<rect x="123.50" y="675.30" width="571.60" height="467.10" fill="none" stroke="#262626" stroke-width="1.3"/>
<line x1="123.50" y1="695.40" x2="128.50" y2="695.40" stroke="#262626" stroke-width="1.3"/>
<line x1="695.10" y1="695.40" x2="690.10" y2="695.40" stroke="#262626" stroke-width="1.3"/>
<line x1="123.50" y1="780.72" x2="128.50" y2="780.72" stroke="#262626" stroke-width="1.3"/>
<line x1="695.10" y1="780.72" x2="690.10" y2="780.72" stroke="#262626" stroke-width="1.3"/>
<line x1="123.50" y1="866.04" x2="128.50" y2="866.04" stroke="#262626" stroke-width="1.3"/>
<line x1="695.10" y1="866.04" x2="690.10" y2="866.04" stroke="#262626" stroke-width="1.3"/>
<line x1="123.50" y1="951.36" x2="128.50" y2="951.36" stroke="#262626" stroke-width="1.3"/>
<line x1="695.10" y1="951.36" x2="690.10" y2="951.36" stroke="#262626" stroke-width="1.3"/>
<line x1="123.50" y1="1036.68" x2="128.50" y2="1036.68" stroke="#262626" stroke-width="1.3"/>
<line x1="695.10" y1="1036.68" x2="690.10" y2="1036.68" stroke="#262626" stroke-width="1.3"/>
<line x1="123.50" y1="1122.00" x2="128.50" y2="1122.00" stroke="#262626" stroke-width="1.3"/>
<line x1="695.10" y1="1122.00" x2="690.10" y2="1122.00" stroke="#262626" stroke-width="1.3"/>
<line x1="194.40" y1="1142.40" x2="194.40" y2="1137.40" stroke="#262626" stroke-width="1.3"/>
<line x1="194.40" y1="675.30" x2="194.40" y2="680.30" stroke="#262626" stroke-width="1.3"/>
<line x1="265.80" y1="1142.40" x2="265.80" y2="1137.40" stroke="#262626" stroke-width="1.3"/>
<line x1="265.80" y1="675.30" x2="265.80" y2="680.30" stroke="#262626" stroke-width="1.3"/>
<line x1="337.50" y1="1142.40" x2="337.50" y2="1137.40" stroke="#262626" stroke-width="1.3"/>
<line x1="337.50" y1="675.30" x2="337.50" y2="680.30" stroke="#262626" stroke-width="1.3"/>
<line x1="409.40" y1="1142.40" x2="409.40" y2="1137.40" stroke="#262626" stroke-width="1.3"/>
<line x1="409.40" y1="675.30" x2="409.40" y2="680.30" stroke="#262626" stroke-width="1.3"/>
<line x1="480.80" y1="1142.40" x2="480.80" y2="1137.40" stroke="#262626" stroke-width="1.3"/>
<line x1="480.80" y1="675.30" x2="480.80" y2="680.30" stroke="#262626" stroke-width="1.3"/>
<line x1="552.20" y1="1142.40" x2="552.20" y2="1137.40" stroke="#262626" stroke-width="1.3"/>
<line x1="552.20" y1="675.30" x2="552.20" y2="680.30" stroke="#262626" stroke-width="1.3"/>
<text x="112.60" y="708.70" font-size="29" text-anchor="end" font-weight="normal" fill="#262626" >2800</text>
<text x="112.60" y="794.02" font-size="29" text-anchor="end" font-weight="normal" fill="#262626" >2400</text>
<text x="112.60" y="879.34" font-size="29" text-anchor="end" font-weight="normal" fill="#262626" >2000</text>
<text x="112.60" y="964.66" font-size="29" text-anchor="end" font-weight="normal" fill="#262626" >1600</text>
<text x="112.60" y="1049.98" font-size="29" text-anchor="end" font-weight="normal" fill="#262626" >1200</text>
<text x="112.60" y="1135.30" font-size="29" text-anchor="end" font-weight="normal" fill="#262626" >800</text>
<line x1="106.30" y1="1153.30" x2="137.40" y2="1119.80" stroke="#111" stroke-width="1.6"/>
<line x1="106.30" y1="1158.50" x2="137.40" y2="1125.30" stroke="#111" stroke-width="1.6"/>
<path d="M193.40 909.20 C193.27 912.77 192.97 923.63 192.60 930.60 C192.23 937.57 191.68 944.20 191.20 951.00 C190.72 957.80 190.37 964.62 189.70 971.40 C189.03 978.18 187.88 986.10 187.20 991.70 C186.52 997.30 186.20 1000.28 185.60 1005.00 C185.00 1009.72 184.72 1014.95 183.60 1020.00 C182.48 1025.05 180.47 1030.20 178.90 1035.30 C177.33 1040.40 175.23 1046.02 174.20 1050.60 C173.17 1055.18 172.65 1058.55 172.70 1062.80 C172.75 1067.05 173.52 1071.33 174.50 1076.10 C175.48 1080.87 177.20 1086.32 178.60 1091.40 C180.00 1096.48 181.45 1101.52 182.90 1106.60 C184.35 1111.68 186.07 1117.05 187.30 1121.90 C188.53 1126.75 189.80 1133.40 190.30 1135.70 L198.50 1135.70 C199.00 1133.40 200.27 1126.75 201.50 1121.90 C202.73 1117.05 204.45 1111.68 205.90 1106.60 C207.35 1101.52 208.80 1096.48 210.20 1091.40 C211.60 1086.32 213.32 1080.87 214.30 1076.10 C215.28 1071.33 216.05 1067.05 216.10 1062.80 C216.15 1058.55 215.63 1055.18 214.60 1050.60 C213.57 1046.02 211.47 1040.40 209.90 1035.30 C208.33 1030.20 206.32 1025.05 205.20 1020.00 C204.08 1014.95 203.80 1009.72 203.20 1005.00 C202.60 1000.28 202.28 997.30 201.60 991.70 C200.92 986.10 199.77 978.18 199.10 971.40 C198.43 964.62 198.08 957.80 197.60 951.00 C197.12 944.20 196.57 937.57 196.20 930.60 C195.83 923.63 195.53 912.77 195.40 909.20 Z" fill="#eeeaf6" stroke="#808080" stroke-width="1.2"/>
<line x1="194.40" y1="955.00" x2="194.40" y2="1135.70" stroke="#8c8c8c" stroke-width="1.5"/>
<line x1="173.63" y1="1055.20" x2="215.17" y2="1055.20" stroke="#c2aede" stroke-width="1.6"/>
<line x1="194.40" y1="1033.30" x2="194.40" y2="1083.70" stroke="#7f7f7f" stroke-width="2.7"/>
<circle cx="194.40" cy="1059.80" r="5.6" fill="#fff" stroke="#787878" stroke-width="1.2"/>
<path d="M262.80 778.80 C262.57 782.38 262.17 792.50 261.40 800.30 C260.63 808.10 259.33 817.17 258.20 825.60 C257.07 834.03 255.87 842.47 254.60 850.90 C253.33 859.33 251.87 867.77 250.60 876.20 C249.33 884.63 247.97 893.07 247.00 901.50 C246.03 909.93 245.25 919.55 244.80 926.80 C244.35 934.05 244.47 938.97 244.30 945.00 C244.13 951.03 243.73 955.78 243.80 963.00 C243.87 970.22 244.12 979.87 244.70 988.30 C245.28 996.73 246.05 1005.17 247.30 1013.60 C248.55 1022.03 250.52 1031.53 252.20 1038.90 C253.88 1046.27 255.98 1052.53 257.40 1057.80 C258.82 1063.07 259.93 1067.02 260.70 1070.50 C261.47 1073.98 261.78 1077.33 262.00 1078.70 L269.60 1078.70 C269.82 1077.33 270.13 1073.98 270.90 1070.50 C271.67 1067.02 272.78 1063.07 274.20 1057.80 C275.62 1052.53 277.72 1046.27 279.40 1038.90 C281.08 1031.53 283.05 1022.03 284.30 1013.60 C285.55 1005.17 286.32 996.73 286.90 988.30 C287.48 979.87 287.73 970.22 287.80 963.00 C287.87 955.78 287.47 951.03 287.30 945.00 C287.13 938.97 287.25 934.05 286.80 926.80 C286.35 919.55 285.57 909.93 284.60 901.50 C283.63 893.07 282.27 884.63 281.00 876.20 C279.73 867.77 278.27 859.33 277.00 850.90 C275.73 842.47 274.53 834.03 273.40 825.60 C272.27 817.17 270.97 808.10 270.20 800.30 C269.43 792.50 269.03 782.38 268.80 778.80 Z" fill="#d5c8e8" stroke="#808080" stroke-width="1.2"/>
<line x1="265.80" y1="778.80" x2="265.80" y2="1078.70" stroke="#8c8c8c" stroke-width="1.5"/>
<line x1="244.30" y1="945.00" x2="287.30" y2="945.00" stroke="#5b3ea6" stroke-width="1.6"/>
<line x1="265.80" y1="893.90" x2="265.80" y2="994.60" stroke="#7f7f7f" stroke-width="2.7"/>
<circle cx="265.80" cy="951.80" r="5.6" fill="#fff" stroke="#787878" stroke-width="1.2"/>
<path d="M336.70 822.40 C336.67 833.67 336.82 873.98 336.50 890.00 C336.18 906.02 335.38 910.38 334.80 918.50 C334.22 926.62 333.68 930.95 333.00 938.70 C332.32 946.45 331.48 956.45 330.70 965.00 C329.92 973.55 329.37 982.17 328.30 990.00 C327.23 997.83 325.82 1004.67 324.30 1012.00 C322.78 1019.33 320.48 1027.57 319.20 1034.00 C317.92 1040.43 317.15 1045.93 316.60 1050.60 C316.05 1055.27 315.95 1058.43 315.90 1062.00 C315.85 1065.57 315.73 1068.40 316.30 1072.00 C316.87 1075.60 317.70 1078.93 319.30 1083.60 C320.90 1088.27 324.07 1095.43 325.90 1100.00 C327.73 1104.57 329.28 1107.95 330.30 1111.00 C331.32 1114.05 331.72 1117.08 332.00 1118.30 L343.00 1118.30 C343.28 1117.08 343.68 1114.05 344.70 1111.00 C345.72 1107.95 347.27 1104.57 349.10 1100.00 C350.93 1095.43 354.10 1088.27 355.70 1083.60 C357.30 1078.93 358.13 1075.60 358.70 1072.00 C359.27 1068.40 359.15 1065.57 359.10 1062.00 C359.05 1058.43 358.95 1055.27 358.40 1050.60 C357.85 1045.93 357.08 1040.43 355.80 1034.00 C354.52 1027.57 352.22 1019.33 350.70 1012.00 C349.18 1004.67 347.77 997.83 346.70 990.00 C345.63 982.17 345.08 973.55 344.30 965.00 C343.52 956.45 342.68 946.45 342.00 938.70 C341.32 930.95 340.78 926.62 340.20 918.50 C339.62 910.38 338.82 906.02 338.50 890.00 C338.18 873.98 338.33 833.67 338.30 822.40 Z" fill="#e6f3fa" stroke="#808080" stroke-width="1.2"/>
<line x1="337.50" y1="938.00" x2="337.50" y2="1117.70" stroke="#8c8c8c" stroke-width="1.5"/>
<line x1="318.24" y1="1040.10" x2="356.76" y2="1040.10" stroke="#9dcdea" stroke-width="1.6"/>
<line x1="337.50" y1="1011.50" x2="337.50" y2="1072.00" stroke="#7f7f7f" stroke-width="2.7"/>
<circle cx="337.50" cy="1048.40" r="5.6" fill="#fff" stroke="#787878" stroke-width="1.2"/>
<path d="M405.60 778.50 C405.23 781.85 404.17 791.30 403.40 798.60 C402.63 805.90 401.72 814.42 401.00 822.30 C400.28 830.18 399.97 838.02 399.10 845.90 C398.23 853.78 396.93 861.72 395.80 869.60 C394.67 877.48 393.32 886.47 392.30 893.20 C391.28 899.93 390.38 903.85 389.70 910.00 C389.02 916.15 388.53 924.18 388.20 930.10 C387.87 936.02 387.57 939.00 387.70 945.50 C387.83 952.00 388.18 961.23 389.00 969.10 C389.82 976.97 391.25 984.82 392.60 992.70 C393.95 1000.58 395.60 1008.52 397.10 1016.40 C398.60 1024.28 400.58 1034.28 401.60 1040.00 C402.62 1045.72 402.93 1048.92 403.20 1050.70 L415.60 1050.70 C415.87 1048.92 416.18 1045.72 417.20 1040.00 C418.22 1034.28 420.20 1024.28 421.70 1016.40 C423.20 1008.52 424.85 1000.58 426.20 992.70 C427.55 984.82 428.98 976.97 429.80 969.10 C430.62 961.23 430.97 952.00 431.10 945.50 C431.23 939.00 430.93 936.02 430.60 930.10 C430.27 924.18 429.78 916.15 429.10 910.00 C428.42 903.85 427.52 899.93 426.50 893.20 C425.48 886.47 424.13 877.48 423.00 869.60 C421.87 861.72 420.57 853.78 419.70 845.90 C418.83 838.02 418.52 830.18 417.80 822.30 C417.08 814.42 416.17 805.90 415.40 798.60 C414.63 791.30 413.57 781.85 413.20 778.50 Z" fill="#c3ddef" stroke="#808080" stroke-width="1.2"/>
<line x1="409.40" y1="778.50" x2="409.40" y2="1050.70" stroke="#8c8c8c" stroke-width="1.5"/>
<line x1="388.19" y1="930.30" x2="430.61" y2="930.30" stroke="#3a88cc" stroke-width="1.6"/>
<line x1="409.40" y1="890.20" x2="409.40" y2="977.40" stroke="#7f7f7f" stroke-width="2.7"/>
<circle cx="409.40" cy="937.20" r="5.6" fill="#fff" stroke="#787878" stroke-width="1.2"/>
<path d="M479.80 871.40 C479.77 880.23 479.82 913.08 479.60 924.40 C479.38 935.72 478.95 935.05 478.50 939.30 C478.05 943.55 477.72 944.58 476.90 949.90 C476.08 955.22 474.58 964.52 473.60 971.20 C472.62 977.88 472.32 983.33 471.00 990.00 C469.68 996.67 467.43 1004.12 465.70 1011.20 C463.97 1018.28 461.62 1026.65 460.60 1032.50 C459.58 1038.35 459.75 1041.00 459.60 1046.30 C459.45 1051.60 459.35 1057.77 459.70 1064.30 C460.05 1070.83 460.70 1079.30 461.70 1085.50 C462.70 1091.70 464.37 1097.07 465.70 1101.50 C467.03 1105.93 468.82 1109.18 469.70 1112.10 C470.58 1115.02 470.78 1117.85 471.00 1119.00 L490.60 1119.00 C490.82 1117.85 491.02 1115.02 491.90 1112.10 C492.78 1109.18 494.57 1105.93 495.90 1101.50 C497.23 1097.07 498.90 1091.70 499.90 1085.50 C500.90 1079.30 501.55 1070.83 501.90 1064.30 C502.25 1057.77 502.15 1051.60 502.00 1046.30 C501.85 1041.00 502.02 1038.35 501.00 1032.50 C499.98 1026.65 497.63 1018.28 495.90 1011.20 C494.17 1004.12 491.92 996.67 490.60 990.00 C489.28 983.33 488.98 977.88 488.00 971.20 C487.02 964.52 485.52 955.22 484.70 949.90 C483.88 944.58 483.55 943.55 483.10 939.30 C482.65 935.05 482.22 935.72 482.00 924.40 C481.78 913.08 481.83 880.23 481.80 871.40 Z" fill="#daf5eb" stroke="#808080" stroke-width="1.2"/>
<line x1="480.80" y1="926.00" x2="480.80" y2="1119.00" stroke="#8c8c8c" stroke-width="1.5"/>
<line x1="459.60" y1="1046.30" x2="502.00" y2="1046.30" stroke="#64cc9e" stroke-width="1.6"/>
<line x1="480.80" y1="1020.30" x2="480.80" y2="1086.10" stroke="#7f7f7f" stroke-width="2.7"/>
<circle cx="480.80" cy="1046.80" r="5.6" fill="#fff" stroke="#787878" stroke-width="1.2"/>
<path d="M551.40 695.30 C551.30 698.35 551.12 706.60 550.80 713.60 C550.48 720.60 549.95 729.42 549.50 737.30 C549.05 745.18 548.75 753.02 548.10 760.90 C547.45 768.78 546.47 776.72 545.60 784.60 C544.73 792.48 543.73 800.63 542.90 808.20 C542.07 815.77 541.57 822.43 540.60 830.00 C539.63 837.57 538.30 845.72 537.10 853.60 C535.90 861.48 534.38 869.42 533.40 877.30 C532.42 885.18 531.63 893.02 531.20 900.90 C530.77 908.78 530.70 916.72 530.80 924.60 C530.90 932.48 531.43 941.47 531.80 948.20 C532.17 954.93 532.63 959.62 533.00 965.00 C533.37 970.38 533.65 975.33 534.00 980.50 C534.35 985.67 534.55 990.83 535.10 996.00 C535.65 1001.17 536.58 1006.33 537.30 1011.50 C538.02 1016.67 538.72 1021.83 539.40 1027.00 C540.08 1032.17 540.88 1038.30 541.40 1042.50 C541.92 1046.70 542.32 1050.58 542.50 1052.20 L561.90 1052.20 C562.08 1050.58 562.48 1046.70 563.00 1042.50 C563.52 1038.30 564.32 1032.17 565.00 1027.00 C565.68 1021.83 566.38 1016.67 567.10 1011.50 C567.82 1006.33 568.75 1001.17 569.30 996.00 C569.85 990.83 570.05 985.67 570.40 980.50 C570.75 975.33 571.03 970.38 571.40 965.00 C571.77 959.62 572.23 954.93 572.60 948.20 C572.97 941.47 573.50 932.48 573.60 924.60 C573.70 916.72 573.63 908.78 573.20 900.90 C572.77 893.02 571.98 885.18 571.00 877.30 C570.02 869.42 568.50 861.48 567.30 853.60 C566.10 845.72 564.77 837.57 563.80 830.00 C562.83 822.43 562.33 815.77 561.50 808.20 C560.67 800.63 559.67 792.48 558.80 784.60 C557.93 776.72 556.95 768.78 556.30 760.90 C555.65 753.02 555.35 745.18 554.90 737.30 C554.45 729.42 553.92 720.60 553.60 713.60 C553.28 706.60 553.10 698.35 553.00 695.30 Z" fill="#c1eddb" stroke="#808080" stroke-width="1.2"/>
<line x1="552.20" y1="695.30" x2="552.20" y2="1052.20" stroke="#8c8c8c" stroke-width="1.5"/>
<line x1="530.86" y1="926.00" x2="573.54" y2="926.00" stroke="#2db47a" stroke-width="1.6"/>
<line x1="552.20" y1="880.20" x2="552.20" y2="980.50" stroke="#7f7f7f" stroke-width="2.7"/>
<circle cx="552.20" cy="919.20" r="5.6" fill="#fff" stroke="#787878" stroke-width="1.2"/>
<rect x="874.60" y="676.20" width="427.50" height="466.60" fill="none" stroke="#262626" stroke-width="1.3"/>
<line x1="874.60" y1="696.50" x2="879.60" y2="696.50" stroke="#262626" stroke-width="1.3"/>
<line x1="1302.10" y1="696.50" x2="1297.10" y2="696.50" stroke="#262626" stroke-width="1.3"/>
<line x1="874.60" y1="781.60" x2="879.60" y2="781.60" stroke="#262626" stroke-width="1.3"/>
<line x1="1302.10" y1="781.60" x2="1297.10" y2="781.60" stroke="#262626" stroke-width="1.3"/>
<line x1="874.60" y1="866.70" x2="879.60" y2="866.70" stroke="#262626" stroke-width="1.3"/>
<line x1="1302.10" y1="866.70" x2="1297.10" y2="866.70" stroke="#262626" stroke-width="1.3"/>
<line x1="874.60" y1="951.80" x2="879.60" y2="951.80" stroke="#262626" stroke-width="1.3"/>
<line x1="1302.10" y1="951.80" x2="1297.10" y2="951.80" stroke="#262626" stroke-width="1.3"/>
<line x1="874.60" y1="1036.90" x2="879.60" y2="1036.90" stroke="#262626" stroke-width="1.3"/>
<line x1="1302.10" y1="1036.90" x2="1297.10" y2="1036.90" stroke="#262626" stroke-width="1.3"/>
<line x1="874.60" y1="1122.00" x2="879.60" y2="1122.00" stroke="#262626" stroke-width="1.3"/>
<line x1="1302.10" y1="1122.00" x2="1297.10" y2="1122.00" stroke="#262626" stroke-width="1.3"/>
<line x1="945.40" y1="1142.80" x2="945.40" y2="1137.80" stroke="#262626" stroke-width="1.3"/>
<line x1="945.40" y1="676.20" x2="945.40" y2="681.20" stroke="#262626" stroke-width="1.3"/>
<line x1="1021.90" y1="1142.80" x2="1021.90" y2="1137.80" stroke="#262626" stroke-width="1.3"/>
<line x1="1021.90" y1="676.20" x2="1021.90" y2="681.20" stroke="#262626" stroke-width="1.3"/>
<line x1="1084.90" y1="1142.80" x2="1084.90" y2="1137.80" stroke="#262626" stroke-width="1.3"/>
<line x1="1084.90" y1="676.20" x2="1084.90" y2="681.20" stroke="#262626" stroke-width="1.3"/>
<line x1="1154.30" y1="1142.80" x2="1154.30" y2="1137.80" stroke="#262626" stroke-width="1.3"/>
<line x1="1154.30" y1="676.20" x2="1154.30" y2="681.20" stroke="#262626" stroke-width="1.3"/>
<text x="863.70" y="709.80" font-size="29" text-anchor="end" font-weight="normal" fill="#262626" >2800</text>
<text x="863.70" y="794.90" font-size="29" text-anchor="end" font-weight="normal" fill="#262626" >2400</text>
<text x="863.70" y="880.00" font-size="29" text-anchor="end" font-weight="normal" fill="#262626" >2000</text>
<text x="863.70" y="965.10" font-size="29" text-anchor="end" font-weight="normal" fill="#262626" >1600</text>
<text x="863.70" y="1050.20" font-size="29" text-anchor="end" font-weight="normal" fill="#262626" >1200</text>
<text x="863.70" y="1135.30" font-size="29" text-anchor="end" font-weight="normal" fill="#262626" >800</text>
<line x1="859.30" y1="1152.50" x2="890.00" y2="1118.80" stroke="#111" stroke-width="1.6"/>
<line x1="859.30" y1="1158.30" x2="890.00" y2="1124.50" stroke="#111" stroke-width="1.6"/>
<path d="M944.40 886.00 C944.38 895.00 944.50 928.55 944.30 940.00 C944.10 951.45 943.75 949.80 943.20 954.70 C942.65 959.60 941.88 964.50 941.00 969.40 C940.12 974.30 939.00 979.22 937.90 984.10 C936.80 988.98 935.62 993.82 934.40 998.70 C933.18 1003.58 931.88 1008.50 930.60 1013.40 C929.32 1018.30 927.72 1023.20 926.70 1028.10 C925.68 1033.00 925.03 1037.90 924.50 1042.80 C923.97 1047.70 923.47 1052.60 923.50 1057.50 C923.53 1062.40 923.98 1067.32 924.70 1072.20 C925.42 1077.08 926.58 1081.92 927.80 1086.80 C929.02 1091.68 930.72 1096.85 932.00 1101.50 C933.28 1106.15 934.92 1112.50 935.50 1114.70 L955.30 1114.70 C955.88 1112.50 957.52 1106.15 958.80 1101.50 C960.08 1096.85 961.78 1091.68 963.00 1086.80 C964.22 1081.92 965.38 1077.08 966.10 1072.20 C966.82 1067.32 967.27 1062.40 967.30 1057.50 C967.33 1052.60 966.83 1047.70 966.30 1042.80 C965.77 1037.90 965.12 1033.00 964.10 1028.10 C963.08 1023.20 961.48 1018.30 960.20 1013.40 C958.92 1008.50 957.62 1003.58 956.40 998.70 C955.18 993.82 954.00 988.98 952.90 984.10 C951.80 979.22 950.68 974.30 949.80 969.40 C948.92 964.50 948.15 959.60 947.60 954.70 C947.05 949.80 946.70 951.45 946.50 940.00 C946.30 928.55 946.42 895.00 946.40 886.00 Z" fill="#ebebeb" stroke="#808080" stroke-width="1.2"/>
<line x1="945.40" y1="983.30" x2="945.40" y2="1114.70" stroke="#8c8c8c" stroke-width="1.5"/>
<line x1="924.08" y1="1049.00" x2="966.72" y2="1049.00" stroke="#c4c4c4" stroke-width="1.6"/>
<line x1="945.40" y1="1028.10" x2="945.40" y2="1081.70" stroke="#7f7f7f" stroke-width="2.7"/>
<circle cx="945.40" cy="1053.00" r="5.6" fill="#fff" stroke="#787878" stroke-width="1.2"/>
<path d="M1020.70 928.60 C1020.70 930.50 1020.95 935.52 1020.70 940.00 C1020.45 944.48 1019.72 950.33 1019.20 955.50 C1018.68 960.67 1018.60 965.85 1017.60 971.00 C1016.60 976.15 1014.85 981.25 1013.20 986.40 C1011.55 991.55 1009.35 996.73 1007.70 1001.90 C1006.05 1007.07 1004.43 1012.23 1003.30 1017.40 C1002.17 1022.57 1001.35 1027.73 1000.90 1032.90 C1000.45 1038.07 1000.35 1043.25 1000.60 1048.40 C1000.85 1053.55 1001.57 1058.65 1002.40 1063.80 C1003.23 1068.95 1004.45 1074.13 1005.60 1079.30 C1006.75 1084.47 1007.87 1089.63 1009.30 1094.80 C1010.73 1099.97 1013.07 1105.92 1014.20 1110.30 C1015.33 1114.68 1015.78 1119.30 1016.10 1121.10 L1027.70 1121.10 C1028.02 1119.30 1028.47 1114.68 1029.60 1110.30 C1030.73 1105.92 1033.07 1099.97 1034.50 1094.80 C1035.93 1089.63 1037.05 1084.47 1038.20 1079.30 C1039.35 1074.13 1040.57 1068.95 1041.40 1063.80 C1042.23 1058.65 1042.95 1053.55 1043.20 1048.40 C1043.45 1043.25 1043.35 1038.07 1042.90 1032.90 C1042.45 1027.73 1041.63 1022.57 1040.50 1017.40 C1039.37 1012.23 1037.75 1007.07 1036.10 1001.90 C1034.45 996.73 1032.25 991.55 1030.60 986.40 C1028.95 981.25 1027.20 976.15 1026.20 971.00 C1025.20 965.85 1025.12 960.67 1024.60 955.50 C1024.08 950.33 1023.35 944.48 1023.10 940.00 C1022.85 935.52 1023.10 930.50 1023.10 928.60 Z" fill="#ebebeb" stroke="#808080" stroke-width="1.2"/>
<line x1="1021.90" y1="961.70" x2="1021.90" y2="1121.10" stroke="#8c8c8c" stroke-width="1.5"/>
<line x1="1000.64" y1="1046.50" x2="1043.16" y2="1046.50" stroke="#c4c4c4" stroke-width="1.6"/>
<line x1="1021.90" y1="1023.60" x2="1021.90" y2="1079.30" stroke="#7f7f7f" stroke-width="2.7"/>
<circle cx="1021.90" cy="1045.30" r="5.6" fill="#fff" stroke="#787878" stroke-width="1.2"/>
<path d="M1083.40 761.10 C1083.35 764.17 1083.38 772.35 1083.10 779.50 C1082.82 786.65 1082.27 795.85 1081.70 804.00 C1081.13 812.15 1080.43 820.25 1079.70 828.40 C1078.97 836.55 1078.07 844.73 1077.30 852.90 C1076.53 861.07 1075.72 869.55 1075.10 877.40 C1074.48 885.25 1074.65 893.07 1073.60 900.00 C1072.55 906.93 1070.25 912.67 1068.80 919.00 C1067.35 925.33 1065.88 931.67 1064.90 938.00 C1063.92 944.33 1063.00 950.68 1062.90 957.00 C1062.80 963.32 1063.33 969.58 1064.30 975.90 C1065.27 982.22 1067.17 988.57 1068.70 994.90 C1070.23 1001.23 1072.02 1007.57 1073.50 1013.90 C1074.98 1020.23 1076.65 1027.20 1077.60 1032.90 C1078.55 1038.60 1078.93 1045.57 1079.20 1048.10 L1090.00 1048.10 C1090.27 1045.57 1090.65 1038.60 1091.60 1032.90 C1092.55 1027.20 1094.22 1020.23 1095.70 1013.90 C1097.18 1007.57 1098.97 1001.23 1100.50 994.90 C1102.03 988.57 1103.93 982.22 1104.90 975.90 C1105.87 969.58 1106.40 963.32 1106.30 957.00 C1106.20 950.68 1105.28 944.33 1104.30 938.00 C1103.32 931.67 1101.85 925.33 1100.40 919.00 C1098.95 912.67 1096.65 906.93 1095.60 900.00 C1094.55 893.07 1094.72 885.25 1094.10 877.40 C1093.48 869.55 1092.67 861.07 1091.90 852.90 C1091.13 844.73 1090.23 836.55 1089.50 828.40 C1088.77 820.25 1088.07 812.15 1087.50 804.00 C1086.93 795.85 1086.38 786.65 1086.10 779.50 C1085.82 772.35 1085.85 764.17 1085.80 761.10 Z" fill="#c9c9c9" stroke="#808080" stroke-width="1.2"/>
<line x1="1084.60" y1="821.10" x2="1084.60" y2="1048.10" stroke="#8c8c8c" stroke-width="1.5"/>
<line x1="1064.34" y1="943.30" x2="1104.86" y2="943.30" stroke="#555555" stroke-width="1.6"/>
<line x1="1084.60" y1="914.60" x2="1084.60" y2="979.10" stroke="#7f7f7f" stroke-width="2.7"/>
<circle cx="1084.60" cy="950.40" r="5.6" fill="#fff" stroke="#787878" stroke-width="1.2"/>
<path d="M1148.30 794.20 C1147.98 797.03 1147.28 804.82 1146.40 811.20 C1145.52 817.58 1144.12 825.42 1143.00 832.50 C1141.88 839.58 1140.70 846.63 1139.70 853.70 C1138.70 860.77 1137.82 867.82 1137.00 874.90 C1136.18 881.98 1135.40 890.02 1134.80 896.20 C1134.20 902.38 1133.73 907.28 1133.40 912.00 C1133.07 916.72 1132.95 919.07 1132.80 924.50 C1132.65 929.93 1132.27 937.63 1132.50 944.60 C1132.73 951.57 1133.35 959.07 1134.20 966.30 C1135.05 973.53 1136.37 980.77 1137.60 988.00 C1138.83 995.23 1140.30 1002.47 1141.60 1009.70 C1142.90 1016.93 1144.70 1026.42 1145.40 1031.40 C1146.10 1036.38 1145.73 1038.23 1145.80 1039.60 L1162.40 1039.60 C1162.47 1038.23 1162.10 1036.38 1162.80 1031.40 C1163.50 1026.42 1165.30 1016.93 1166.60 1009.70 C1167.90 1002.47 1169.37 995.23 1170.60 988.00 C1171.83 980.77 1173.15 973.53 1174.00 966.30 C1174.85 959.07 1175.47 951.57 1175.70 944.60 C1175.93 937.63 1175.55 929.93 1175.40 924.50 C1175.25 919.07 1175.13 916.72 1174.80 912.00 C1174.47 907.28 1174.00 902.38 1173.40 896.20 C1172.80 890.02 1172.02 881.98 1171.20 874.90 C1170.38 867.82 1169.50 860.77 1168.50 853.70 C1167.50 846.63 1166.32 839.58 1165.20 832.50 C1164.08 825.42 1162.68 817.58 1161.80 811.20 C1160.92 804.82 1160.22 797.03 1159.90 794.20 Z" fill="#c9c9c9" stroke="#808080" stroke-width="1.2"/>
<line x1="1154.10" y1="794.20" x2="1154.10" y2="1039.60" stroke="#8c8c8c" stroke-width="1.5"/>
<line x1="1132.80" y1="924.50" x2="1175.40" y2="924.50" stroke="#555555" stroke-width="1.6"/>
<line x1="1154.10" y1="880.20" x2="1154.10" y2="966.80" stroke="#7f7f7f" stroke-width="2.7"/>
<circle cx="1154.10" cy="931.50" r="5.6" fill="#fff" stroke="#787878" stroke-width="1.2"/>
<path d="M219.70 41.00 L219.70 10.80 L512.30 10.80 L512.30 20.50" fill="none" stroke="#000" stroke-width="3.8" stroke-linejoin="miter" stroke-linecap="butt"/><line x1="366.00" y1="10.80" x2="366.00" y2="20.50" stroke="#000" stroke-width="3.8"/>
<path d="M181.50 72.20 L181.50 63.40 L254.80 63.40 L254.80 93.00" fill="none" stroke="#000" stroke-width="3.8" stroke-linejoin="miter" stroke-linecap="butt"/>
<path d="M328.90 72.20 L328.90 63.40 L402.50 63.40 L402.50 93.00" fill="none" stroke="#000" stroke-width="3.8" stroke-linejoin="miter" stroke-linecap="butt"/>
<path d="M475.50 72.20 L475.50 63.40 L549.10 63.40 L549.10 93.00" fill="none" stroke="#000" stroke-width="3.8" stroke-linejoin="miter" stroke-linecap="butt"/>
<path d="M226.10 739.80 L226.10 709.60 L518.70 709.60 L518.70 719.50" fill="none" stroke="#000" stroke-width="3.8" stroke-linejoin="miter" stroke-linecap="butt"/><line x1="372.30" y1="709.60" x2="372.30" y2="719.50" stroke="#000" stroke-width="3.8"/>
<path d="M193.50 798.70 L193.50 768.50 L266.60 768.50 L266.60 778.10" fill="none" stroke="#000" stroke-width="3.8" stroke-linejoin="miter" stroke-linecap="butt"/>
<path d="M337.00 798.70 L337.00 768.50 L410.70 768.50 L410.70 778.10" fill="none" stroke="#000" stroke-width="3.8" stroke-linejoin="miter" stroke-linecap="butt"/>
<path d="M479.70 798.70 L479.70 768.50 L553.20 768.50 L553.20 778.10" fill="none" stroke="#000" stroke-width="3.8" stroke-linejoin="miter" stroke-linecap="butt"/>
<line x1="940.00" y1="242.60" x2="1015.00" y2="259.60" stroke="#000" stroke-width="3.8" stroke-linecap="butt"/>
<line x1="1085.50" y1="167.30" x2="1156.20" y2="159.00" stroke="#000" stroke-width="3.8" stroke-linecap="butt"/>
<line x1="1228.30" y1="183.00" x2="1301.00" y2="162.60" stroke="#000" stroke-width="3.8" stroke-linecap="butt"/>
<line x1="946.20" y1="1049.00" x2="1022.30" y2="1045.70" stroke="#000" stroke-width="3.8" stroke-linecap="butt"/>
<line x1="1085.60" y1="945.30" x2="1155.80" y2="925.00" stroke="#000" stroke-width="3.8" stroke-linecap="butt"/>
<text x="7.60" y="37.30" font-size="45.5" text-anchor="start" font-weight="bold" fill="#000" >A</text>
<text x="776.60" y="38.60" font-size="45.5" text-anchor="start" font-weight="bold" fill="#000" >B</text>
<text x="7.00" y="668.10" font-size="45.5" text-anchor="start" font-weight="bold" fill="#000" >C</text>
<text x="776.20" y="667.80" font-size="45.5" text-anchor="start" font-weight="bold" fill="#000" >D</text>
<text x="35.80" y="305.30" font-size="31.9" text-anchor="middle" font-weight="normal" fill="#262626" transform="rotate(-90 35.8 305.3)">Accuracy (%)</text>
<text x="794.20" y="305.30" font-size="31.9" text-anchor="middle" font-weight="normal" fill="#262626" transform="rotate(-90 794.2 305.3)">Accuracy (%)</text>
<text x="35.80" y="909.40" font-size="31.9" text-anchor="middle" font-weight="normal" fill="#262626" transform="rotate(-90 35.8 909.4)">Reaction Time (ms)</text>
<text x="787.00" y="909.40" font-size="31.9" text-anchor="middle" font-weight="normal" fill="#262626" transform="rotate(-90 787.0 909.4)">Reaction Time (ms)</text>
<text transform="translate(181.20 572.30) scale(1.03 1)" font-size="29" text-anchor="middle" fill="#262626">low</text><text transform="translate(246.60 572.30) scale(1.03 1)" font-size="29" text-anchor="middle" fill="#262626">high</text><text transform="translate(216.00 607.50) scale(1.03 1)" font-size="29" text-anchor="middle" fill="#262626">social</text>
<text transform="translate(329.30 572.30) scale(1.03 1)" font-size="29" text-anchor="middle" fill="#262626">low</text><text transform="translate(394.70 572.30) scale(1.03 1)" font-size="29" text-anchor="middle" fill="#262626">high</text><text transform="translate(364.70 607.50) scale(1.03 1)" font-size="29" text-anchor="middle" fill="#262626">visual</text>
<text transform="translate(477.90 572.30) scale(1.03 1)" font-size="29" text-anchor="middle" fill="#262626">low</text><text transform="translate(543.30 572.30) scale(1.03 1)" font-size="29" text-anchor="middle" fill="#262626">high</text><text transform="translate(515.70 607.50) scale(1.03 1)" font-size="29" text-anchor="middle" fill="#262626">verbal</text>
<text x="658.90" y="572.30" font-size="29" text-anchor="middle" font-weight="bold" fill="#262626" >load</text>
<text x="658.70" y="607.50" font-size="29" text-anchor="middle" font-weight="bold" fill="#262626" >task</text>
<text transform="translate(933.50 572.30) scale(1.03 1)" font-size="29" text-anchor="middle" fill="#262626">low</text><text transform="translate(998.90 572.30) scale(1.03 1)" font-size="29" text-anchor="middle" fill="#262626">high</text><text transform="translate(968.40 607.50) scale(1.03 1)" font-size="29" text-anchor="middle" fill="#262626">social</text>
<text transform="translate(1082.00 572.30) scale(1.03 1)" font-size="29" text-anchor="middle" fill="#262626">low</text><text transform="translate(1147.40 572.30) scale(1.03 1)" font-size="29" text-anchor="middle" fill="#262626">high</text><text transform="translate(1117.30 607.50) scale(1.03 1)" font-size="29" text-anchor="middle" fill="#262626">visual</text>
<text transform="translate(1230.50 572.30) scale(1.03 1)" font-size="29" text-anchor="middle" fill="#262626">low</text><text transform="translate(1295.90 572.30) scale(1.03 1)" font-size="29" text-anchor="middle" fill="#262626">high</text><text transform="translate(1268.40 607.50) scale(1.03 1)" font-size="29" text-anchor="middle" fill="#262626">verbal</text>
<text x="1411.50" y="572.30" font-size="29" text-anchor="middle" font-weight="bold" fill="#262626" >AQ</text>
<text x="1410.90" y="607.50" font-size="29" text-anchor="middle" font-weight="bold" fill="#262626" >task</text>
<text transform="translate(182.70 1177.60) scale(1.03 1)" font-size="29" text-anchor="middle" fill="#262626">low</text><text transform="translate(248.10 1177.60) scale(1.03 1)" font-size="29" text-anchor="middle" fill="#262626">high</text><text transform="translate(218.00 1213.20) scale(1.03 1)" font-size="29" text-anchor="middle" fill="#262626">social</text>
<text transform="translate(331.30 1177.60) scale(1.03 1)" font-size="29" text-anchor="middle" fill="#262626">low</text><text transform="translate(396.70 1177.60) scale(1.03 1)" font-size="29" text-anchor="middle" fill="#262626">high</text><text transform="translate(366.50 1213.20) scale(1.03 1)" font-size="29" text-anchor="middle" fill="#262626">visual</text>
<text transform="translate(479.80 1177.60) scale(1.03 1)" font-size="29" text-anchor="middle" fill="#262626">low</text><text transform="translate(545.20 1177.60) scale(1.03 1)" font-size="29" text-anchor="middle" fill="#262626">high</text><text transform="translate(517.60 1213.20) scale(1.03 1)" font-size="29" text-anchor="middle" fill="#262626">verbal</text>
<text x="660.80" y="1177.60" font-size="29" text-anchor="middle" font-weight="bold" fill="#262626" >load</text>
<text x="660.30" y="1213.20" font-size="29" text-anchor="middle" font-weight="bold" fill="#262626" >task</text>
<text transform="translate(943.60 1177.60) scale(1.03 1)" font-size="29" text-anchor="middle" fill="#262626">low</text><text transform="translate(1009.00 1177.60) scale(1.03 1)" font-size="29" text-anchor="middle" fill="#262626">high</text><text transform="translate(971.00 1213.20) scale(1.03 1)" font-size="29" text-anchor="middle" fill="#262626">low</text>
<text transform="translate(1091.90 1177.60) scale(1.03 1)" font-size="29" text-anchor="middle" fill="#262626">low</text><text transform="translate(1157.30 1177.60) scale(1.03 1)" font-size="29" text-anchor="middle" fill="#262626">high</text><text transform="translate(1118.50 1213.20) scale(1.03 1)" font-size="29" text-anchor="middle" fill="#262626">high</text>
<text x="1281.20" y="1177.60" font-size="29" text-anchor="middle" font-weight="bold" fill="#262626" >AQ</text>
<text x="1267.00" y="1213.20" font-size="29" text-anchor="middle" font-weight="bold" fill="#262626" >load</text>
</svg>
</body></html>
